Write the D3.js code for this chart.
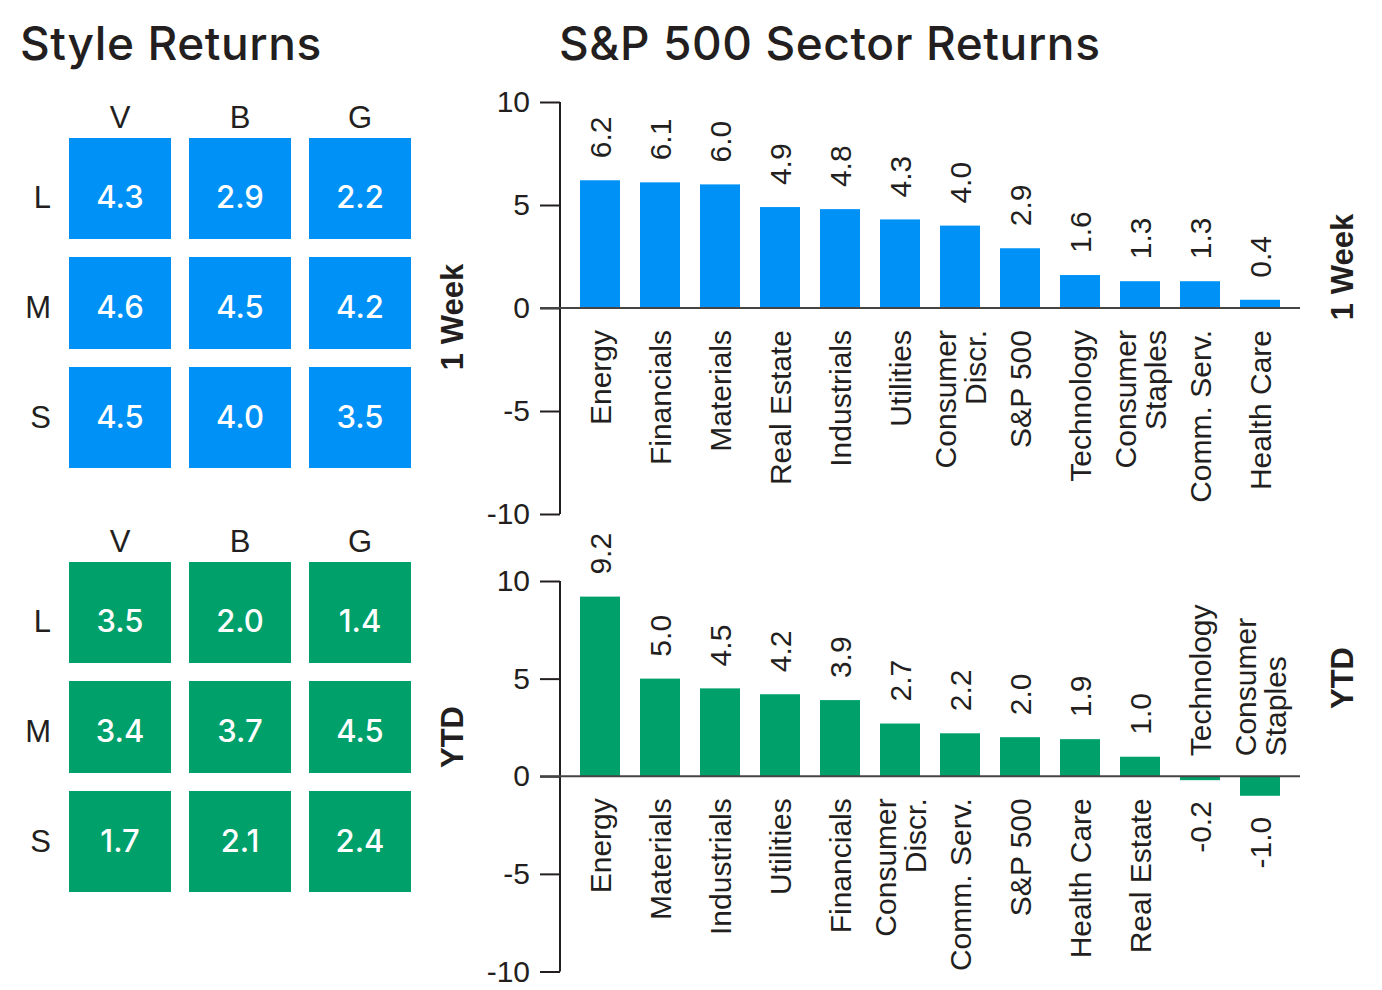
<!DOCTYPE html>
<html>
<head>
<meta charset="utf-8">
<script src="https://cdn.jsdelivr.net/npm/d3@7"></script>
<style>
  html, body { margin: 0; padding: 0; background: #fff; }
  svg { display: block; }
</style>
</head>
<body>
<svg id="chart" width="1382" height="990"></svg>
<script>
// ---------- DATA ----------
const styleCols = ["V", "B", "G"];
const styleRows = ["L", "M", "S"];
const styleWeek = [
  [4.3, 2.9, 2.2],
  [4.6, 4.5, 4.2],
  [4.5, 4.0, 3.5]
];
const styleYTD = [
  [3.5, 2.0, 1.4],
  [3.4, 3.7, 4.5],
  [1.7, 2.1, 2.4]
];

const weekSectors = ["Energy", "Financials", "Materials", "Real Estate", "Industrials", "Utilities",
  "Consumer\nDiscr.", "S&P 500", "Technology", "Consumer\nStaples", "Comm. Serv.", "Health Care"];
const weekValues = [6.2, 6.1, 6.0, 4.9, 4.8, 4.3, 4.0, 2.9, 1.6, 1.3, 1.3, 0.4];

const ytdSectors = ["Energy", "Materials", "Industrials", "Utilities", "Financials", "Consumer\nDiscr.",
  "Comm. Serv.", "S&P 500", "Health Care", "Real Estate", "Technology", "Consumer\nStaples"];
const ytdValues = [9.2, 5.0, 4.5, 4.2, 3.9, 2.7, 2.2, 2.0, 1.9, 1.0, -0.2, -1.0];

const yTicks = [-10, -5, 0, 5, 10];

// ---------- STYLE ----------
const BLUE = "#0091f7";
const GREEN = "#00a06b";
const INK = "#231f20";
const FONT = "'Liberation Sans', Arial, Helvetica, sans-serif";
const TITLE_FONT = "Inter, 'Liberation Sans', Arial, sans-serif";

const svg = d3.select("#chart");

// Titles
svg.append("text").attr("x", 20).attr("y", 60)
  .attr("font-family", TITLE_FONT).attr("font-weight", 500).attr("font-size", 46)
  .attr("fill", INK).attr("letter-spacing", 0.6).text("Style Returns");
svg.append("text").attr("x", 559).attr("y", 60)
  .attr("font-family", TITLE_FONT).attr("font-weight", 500).attr("font-size", 46)
  .attr("fill", INK).attr("letter-spacing", 0.6).text("S&P 500 Sector Returns");

// ---------- STYLE GRIDS ----------
function styleGrid(top, values, color, sideLabel, sideY) {
  const g = svg.append("g");
  const x = d3.scaleBand().domain(styleCols).range([69, 411]).paddingInner(0.15).paddingOuter(0);
  // cell rows (middle row is a bit shorter)
  const rowTop = d3.scaleOrdinal().domain(styleRows).range([top, top + 119, top + 229]);
  const rowH = d3.scaleOrdinal().domain(styleRows).range([101, 92, 101]);
  // text rows: evenly spaced
  const ty = d3.scaleBand().domain(styleRows).range([top, top + 330]);

  g.selectAll("text.col").data(styleCols).join("text")
    .attr("x", d => x(d) + x.bandwidth() / 2)
    .attr("y", top - 10)
    .attr("text-anchor", "middle")
    .attr("font-family", FONT).attr("font-size", 31).attr("fill", INK)
    .text(d => d);

  g.selectAll("text.row").data(styleRows).join("text")
    .attr("x", 51)
    .attr("y", d => ty(d) + ty.bandwidth() / 2 + 3.5)
    .attr("dy", "0.36em")
    .attr("text-anchor", "end")
    .attr("font-family", FONT).attr("font-size", 31).attr("fill", INK)
    .text(d => d);

  const cells = [];
  styleRows.forEach((r, i) => styleCols.forEach((c, j) => cells.push({ r, c, v: values[i][j] })));

  g.selectAll("rect").data(cells).join("rect")
    .attr("x", d => x(d.c))
    .attr("y", d => rowTop(d.r))
    .attr("width", x.bandwidth())
    .attr("height", d => rowH(d.r))
    .attr("fill", color);

  g.selectAll("text.val").data(cells).join("text")
    .attr("x", d => x(d.c) + x.bandwidth() / 2)
    .attr("y", d => ty(d.r) + ty.bandwidth() / 2 + 3.5)
    .attr("dy", "0.36em")
    .attr("text-anchor", "middle")
    .attr("font-family", TITLE_FONT).attr("font-weight", 500).attr("font-size", 31)
    .attr("fill", "#fff")
    .text(d => d.v.toFixed(1));

  svg.append("text")
    .attr("transform", `translate(463,${sideY}) rotate(-90)`)
    .attr("text-anchor", "middle")
    .attr("font-family", FONT).attr("font-weight", 700).attr("font-size", 31)
    .attr("fill", INK).text(sideLabel);
}
styleGrid(138, styleWeek, BLUE, "1 Week", 317);
styleGrid(562, styleYTD, GREEN, "YTD", 737);

// ---------- SECTOR BAR CHARTS ----------
function barChart(cats, vals, color, yTop, yBottom, sideLabel, sideY) {
  const g = svg.append("g");
  const x = d3.scaleBand().domain(cats).range([560, 1300]).paddingInner(1 / 3).paddingOuter(1 / 3);
  const y = d3.scaleLinear().domain([-10, 10]).range([yBottom, yTop]);
  const data = cats.map((c, i) => ({ c, v: vals[i] }));

  // bars
  g.selectAll("rect").data(data).join("rect")
    .attr("x", d => x(d.c))
    .attr("y", d => y(Math.max(0, d.v)))
    .attr("width", x.bandwidth())
    .attr("height", d => Math.abs(y(d.v) - y(0)))
    .attr("fill", color);

  // y axis
  const axis = d3.axisLeft(y).tickValues(yTicks).tickSize(20).tickPadding(10)
    .tickFormat(d3.format("d"));
  const ag = g.append("g").attr("transform", "translate(560,0)").call(axis);
  ag.select(".domain").attr("stroke", INK).attr("stroke-width", 2).attr("d", `M0,${y(10)}V${y(-10)}`);
  ag.selectAll(".tick line").attr("stroke", INK).attr("stroke-width", 2);
  ag.selectAll(".tick text").attr("font-family", FONT).attr("font-size", 30).attr("fill", INK)
    .text(d => d < 0 ? "-" + Math.abs(d) : d);

  // zero line
  g.append("line").attr("x1", 540).attr("x2", 1300).attr("y1", y(0)).attr("y2", y(0))
    .attr("stroke", "#444").attr("stroke-width", 2);

  const cx = d => x(d.c) + x.bandwidth() / 2;

  // value labels
  g.selectAll("text.val").data(data).join("text")
    .attr("transform", d => d.v >= 0
      ? `translate(${cx(d) + 11},${y(d.v) - 22}) rotate(-90)`
      : `translate(${cx(d) + 11},${y(d.v) + 21}) rotate(-90)`)
    .attr("text-anchor", d => d.v >= 0 ? "start" : "end")
    .attr("font-family", FONT).attr("font-size", 30).attr("fill", INK)
    .text(d => d.v.toFixed(1));

  // category labels
  const cl = g.selectAll("text.cat").data(data).join("text")
    .attr("transform", d => d.v >= 0
      ? `translate(${cx(d) + 11},${y(0) + 22}) rotate(-90)`
      : `translate(${cx(d) + 11},${y(0) - 20}) rotate(-90)`)
    .attr("text-anchor", d => d.v >= 0 ? "end" : "start")
    .attr("font-family", FONT).attr("font-size", 30).attr("fill", INK);
  cl.each(function (d) {
    const lines = d.c.split("\n");
    const n = lines.length;
    d3.select(this).selectAll("tspan").data(lines).join("tspan")
      .attr("x", 0)
      .attr("y", (l, i) => (i - (n - 1) / 2) * 30)
      .text(l => l);
  });

  svg.append("text")
    .attr("transform", `translate(1353,${sideY}) rotate(-90)`)
    .attr("text-anchor", "middle")
    .attr("font-family", FONT).attr("font-weight", 700).attr("font-size", 31)
    .attr("fill", INK).text(sideLabel);
}
barChart(weekSectors, weekValues, BLUE, 102, 514, "1 Week", 267);
barChart(ytdSectors, ytdValues, GREEN, 581, 971.5, "YTD", 678);
</script>
</body>
</html>
